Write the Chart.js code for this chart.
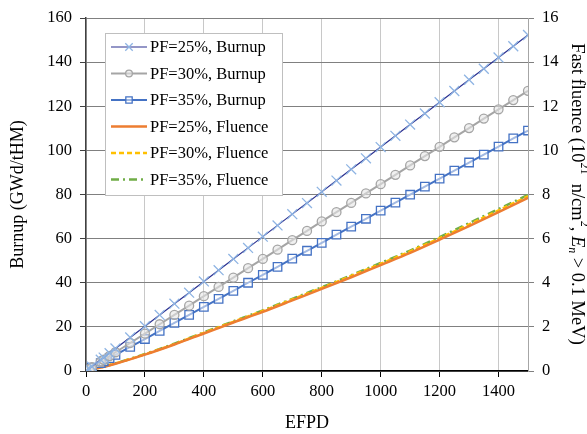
<!DOCTYPE html>
<html>
<head>
<meta charset="utf-8">
<script src="https://cdn.jsdelivr.net/npm/chart.js@4"></script>
<style>
  html, body { margin: 0; padding: 0; background: #fff; }
  #chart { display: block; }
</style>
</head>
<body>
<canvas id="chart" width="587" height="434"></canvas>
<script>
// days at which burnup was sampled
const burnupDays = [0, 1, 10, 20, 50, 60, 80, 100, 150, 200, 250, 300, 350, 400, 450, 500, 550, 600, 650, 700,
  750, 800, 850, 900, 950, 1000, 1050, 1100, 1150, 1200, 1250, 1300, 1350, 1400, 1450, 1500];
const burnupPF25 = [0, 0.1, 1.0, 2.0, 5.1, 6.1, 8.1, 10.2, 15.2, 20.3, 25.4, 30.5, 35.5, 40.6, 45.7, 50.8, 55.8, 60.9, 66.0, 71.1,
  76.1, 81.2, 86.3, 91.4, 96.4, 101.5, 106.6, 111.7, 116.7, 121.8, 126.9, 132.0, 137.0, 142.1, 147.2, 152.3];
const burnupPF30 = [0, 0.1, 0.8, 1.7, 4.2, 5.1, 6.8, 8.5, 12.7, 16.9, 21.2, 25.4, 29.6, 33.9, 38.1, 42.3, 46.6, 50.8, 55.0, 59.3,
  63.5, 67.8, 72.0, 76.2, 80.5, 84.7, 88.9, 93.2, 97.4, 101.6, 105.9, 110.1, 114.4, 118.6, 122.8, 127.0];
const burnupPF35 = [0, 0.1, 0.7, 1.5, 3.6, 4.4, 5.8, 7.3, 10.9, 14.5, 18.2, 21.8, 25.4, 29.1, 32.7, 36.3, 40.0, 43.6, 47.2, 50.9,
  54.5, 58.1, 61.8, 65.4, 69.0, 72.7, 76.3, 79.9, 83.6, 87.2, 90.8, 94.5, 98.1, 101.7, 105.4, 109.0];

// fast fluence, 10^21 n/cm^2
const fluenceDays = [0, 100, 200, 300, 400, 500, 600, 700, 800, 900, 1000, 1100, 1200, 1300, 1400, 1500];
const fluencePF25 = [0, 0.33, 0.74, 1.20, 1.70, 2.20, 2.68, 3.20, 3.72, 4.25, 4.80, 5.35, 5.95, 6.57, 7.20, 7.85];
const fluencePF30 = [0, 0.34, 0.76, 1.22, 1.73, 2.23, 2.72, 3.24, 3.77, 4.31, 4.86, 5.42, 6.02, 6.64, 7.28, 7.92];
const fluencePF35 = [0, 0.35, 0.77, 1.24, 1.75, 2.25, 2.75, 3.27, 3.80, 4.34, 4.90, 5.46, 6.07, 6.70, 7.34, 7.98];

const xTicks = [0, 200, 400, 600, 800, 1000, 1200, 1400];

const SERIF = '"Liberation Serif", "Times New Roman", serif';
const pts = (xs, ys) => xs.map((x, i) => ({ x: x, y: ys[i] }));

const datasets = [
  {
    label: 'PF=25%, Burnup', data: pts(burnupDays, burnupPF25), yAxisID: 'y',
    borderColor: '#2B2F8F', borderWidth: 1.2,
    pointStyle: 'crossRot', pointRadius: 7, pointBorderColor: '#8EB4E3', pointBorderWidth: 1.3
  },
  {
    label: 'PF=30%, Burnup', data: pts(burnupDays, burnupPF30), yAxisID: 'y',
    borderColor: '#A5A5A5', borderWidth: 2,
    pointStyle: 'circle', pointRadius: 4.5, pointBorderColor: '#A5A5A5',
    pointBackgroundColor: 'rgba(230,230,230,0.6)', pointBorderWidth: 1.3
  },
  {
    label: 'PF=35%, Burnup', data: pts(burnupDays, burnupPF35), yAxisID: 'y',
    borderColor: '#4472C4', borderWidth: 2,
    pointStyle: 'rect', pointRadius: 6, pointBorderColor: '#4472C4',
    pointBackgroundColor: 'rgba(255,255,255,0.5)', pointBorderWidth: 1.3
  },
  {
    label: 'PF=25%, Fluence', data: pts(fluenceDays, fluencePF25), yAxisID: 'y1',
    borderColor: '#ED7D31', borderWidth: 2.5, pointRadius: 0, cubicInterpolationMode: 'monotone'
  },
  {
    label: 'PF=30%, Fluence', data: pts(fluenceDays, fluencePF30), yAxisID: 'y1',
    borderColor: '#FFC000', borderWidth: 2.5, borderDash: [5, 3], pointRadius: 0, cubicInterpolationMode: 'monotone'
  },
  {
    label: 'PF=35%, Fluence', data: pts(fluenceDays, fluencePF35), yAxisID: 'y1',
    borderColor: '#70AD47', borderWidth: 2.5, borderDash: [8, 4, 2, 4], pointRadius: 0, cubicInterpolationMode: 'monotone'
  }
];

// legend box drawn inside the plot area
const boxLegend = {
  id: 'boxLegend',
  afterDatasetsDraw(chart) {
    const ctx = chart.ctx;
    const x0 = 105, y0 = 33, w = 177, h = 162, rowH = 26.5;
    ctx.save();
    ctx.fillStyle = '#fff';
    ctx.strokeStyle = '#BFBFBF';
    ctx.lineWidth = 1;
    ctx.fillRect(x0, y0, w, h);
    ctx.strokeRect(x0 + 0.5, y0 + 0.5, w, h);
    chart.data.datasets.forEach((ds, i) => {
      const cy = y0 + 14 + i * rowH;
      ctx.strokeStyle = ds.borderColor;
      ctx.lineWidth = ds.borderWidth;
      ctx.setLineDash(ds.borderDash || []);
      ctx.beginPath();
      ctx.moveTo(x0 + 6, cy);
      ctx.lineTo(x0 + 42, cy);
      ctx.stroke();
      ctx.setLineDash([]);
      if (ds.pointRadius > 0) {
        ctx.strokeStyle = ds.pointBorderColor;
        ctx.fillStyle = ds.pointBackgroundColor || 'rgba(0,0,0,0)';
        ctx.lineWidth = ds.pointBorderWidth;
        Chart.helpers.drawPoint(ctx, {
          pointStyle: ds.pointStyle, radius: ds.pointRadius * 0.75, rotation: 0, borderWidth: ds.pointBorderWidth
        }, x0 + 24, cy);
      }
      ctx.fillStyle = '#000';
      ctx.font = '16.5px ' + SERIF;
      ctx.textBaseline = 'middle';
      ctx.textAlign = 'left';
      ctx.fillText(ds.label, x0 + 45, cy + 1);
    });
    ctx.restore();
  }
};

// right axis title with superscripts and italic subscript
const fluenceTitle = {
  id: 'fluenceTitle',
  afterDraw(chart) {
    const ctx = chart.ctx;
    const runs = [
      { t: 'Fast fluence (10', f: '18.5px ' + SERIF, dy: 0 },
      { t: '21', f: '12px ' + SERIF, dy: -7 },
      { t: '  n/cm', f: '18.5px ' + SERIF, dy: 0 },
      { t: '2', f: '12px ' + SERIF, dy: -7 },
      { t: ', ', f: '18.5px ' + SERIF, dy: 0 },
      { t: 'E', f: 'italic 18.5px ' + SERIF, dy: 0 },
      { t: 'n', f: 'italic 12px ' + SERIF, dy: 5 },
      { t: ' > 0.1 MeV)', f: '18.5px ' + SERIF, dy: 0 }
    ];
    ctx.save();
    let total = 0;
    runs.forEach(r => { ctx.font = r.f; r.w = ctx.measureText(r.t).width; total += r.w; });
    ctx.translate(577, 194);
    ctx.rotate(Math.PI / 2);
    ctx.fillStyle = '#000';
    ctx.textBaseline = 'middle';
    ctx.textAlign = 'left';
    let x = -total / 2;
    runs.forEach(r => {
      ctx.font = r.f;
      ctx.fillText(r.t, x, r.dy);
      x += r.w;
    });
    ctx.restore();
  }
};

new Chart(document.getElementById('chart').getContext('2d'), {
  type: 'line',
  data: { datasets: datasets },
  options: {
    responsive: false,
    maintainAspectRatio: false,
    animation: false,
    layout: { padding: { top: 18, left: 0, right: 0, bottom: 0 } },
    plugins: { legend: { display: false }, tooltip: { enabled: false } },
    scales: {
      x: {
        type: 'linear', min: 0, max: 1500,
        afterBuildTicks: s => { s.ticks = xTicks.map(v => ({ value: v })); },
        afterFit: s => { s.height = 63; },
        grid: {
          color: '#C8C8C8', borderDash: [1, 1], tickLength: 6,
          tickColor: '#000', tickBorderDash: []
        },
        border: { color: '#000', width: 1.5 },
        ticks: {
          color: '#000', font: { family: SERIF, size: 16.5 }, padding: 5, maxRotation: 0,
          callback: v => String(v)
        },
        title: { display: true, text: 'EFPD', color: '#000', font: { family: SERIF, size: 18 }, padding: 0 }
      },
      y: {
        position: 'left', min: 0, max: 160,
        afterFit: s => { s.width = 86; },
        grid: {
          color: '#808080', borderDash: [1, 1], tickLength: 6,
          tickColor: '#404040', tickBorderDash: []
        },
        border: { color: '#404040', width: 1.5 },
        ticks: { stepSize: 20, color: '#000', font: { family: SERIF, size: 16.5 }, padding: 8 },
        title: { display: true, text: 'Burnup (GWd/tHM)', color: '#000', font: { family: SERIF, size: 18 }, padding: { top: 7 } }
      },
      y1: {
        position: 'right', min: 0, max: 16,
        afterFit: s => { s.width = 59; },
        grid: { drawOnChartArea: false, tickLength: 6, tickColor: '#808080', tickBorderDash: [] },
        border: { color: '#A6A6A6', width: 1 },
        ticks: { stepSize: 2, color: '#000', font: { family: SERIF, size: 16.5 }, padding: 8 }
      }
    }
  },
  plugins: [boxLegend, fluenceTitle]
});
</script>
</body>
</html>
